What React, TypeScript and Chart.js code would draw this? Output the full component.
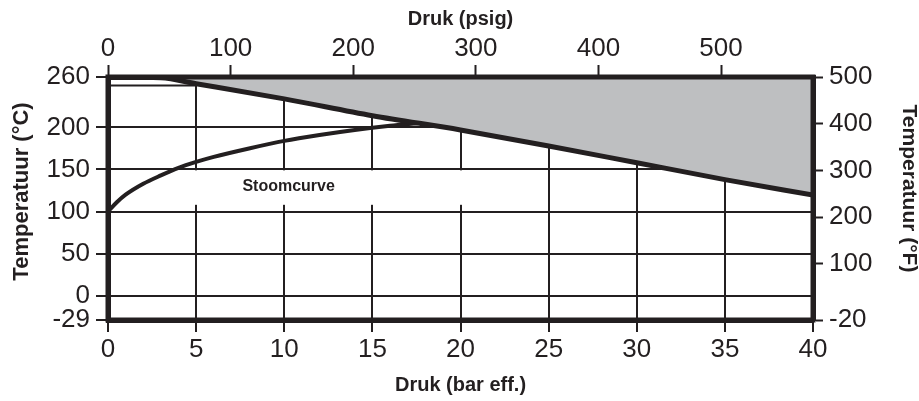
import React, { useEffect, useRef } from "react";
import { Chart, registerables } from "chart.js";

Chart.register(...registerables);

// Axis tick values
const BAR_TICKS = [0, 5, 10, 15, 20, 25, 30, 35, 40];
const PSIG_TICKS = [0, 100, 200, 300, 400, 500];
const C_TICKS = [-29, 0, 50, 100, 150, 200, 260];
const F_TICKS = [-20, 100, 200, 300, 400, 500];

// Upper limit line (bar eff. -> °C), area above is shaded
const LIMIT_BAR = [0, 3, 5, 10, 15, 20, 25, 30, 35, 40];
const LIMIT_C = [260, 259, 252, 234, 214, 197, 178, 158, 138, 119.5];

// Steam saturation curve (bar eff. -> °C)
const STEAM_BAR = [0, 0.5, 1, 2, 3, 4, 5, 6, 8, 10, 12, 14, 16, 17.6];
const STEAM_C = [100, 111, 120, 133, 143, 152, 159, 165, 175, 184, 191, 197, 202, 205.3];

// Short reference line at 250 °C
const REF_BAR = [0, 5];
const REF_C = [250, 250];

const CURVE_LABEL = "Stoomcurve";
const TITLE_C = "Temperatuur (°C)";
const TITLE_F = "Temperatuur (°F)";

const INK = "#231f20";
const GRAY = "#bebfc1";
const FONT = "'Liberation Sans', Arial, Helvetica, sans-serif";

const fixTicks = (values: number[]) => (scale: any) => {
  scale.ticks = values.map((v) => ({ value: v }));
};

const tickFont = { family: FONT, size: 26 };
const titleFont = { family: FONT, size: 20, weight: "bold" as const };

const frameAndLabel = {
  id: "frameAndLabel",
  beforeDatasetsDraw(chart: any) {
    const { ctx, chartArea, scales } = chart;
    const x = scales.x;
    const y = scales.y;
    // white label box hiding grid behind the curve label
    const l = chartArea.left + 3;
    const r = x.getPixelForValue(20.6);
    const t = y.getPixelForValue(149);
    const b = y.getPixelForValue(108);
    ctx.save();
    ctx.fillStyle = "#ffffff";
    ctx.fillRect(l, t, r - l, b - t);
    ctx.fillStyle = INK;
    ctx.font = `bold 16px ${FONT}`;
    ctx.textAlign = "center";
    ctx.textBaseline = "middle";
    ctx.fillText(CURVE_LABEL, x.getPixelForValue(10.25), y.getPixelForValue(130));
    ctx.restore();
  },
  afterDatasetsDraw(chart: any) {
    const { ctx, chartArea } = chart;
    ctx.save();
    ctx.strokeStyle = INK;
    ctx.lineWidth = 5;
    ctx.lineJoin = "miter";
    ctx.strokeRect(
      chartArea.left,
      chartArea.top,
      chartArea.right - chartArea.left,
      chartArea.bottom - chartArea.top
    );
    ctx.restore();
  },
  afterDraw(chart: any) {
    const { ctx, chartArea, width } = chart;
    const midY = (chartArea.top + chartArea.bottom) / 2;
    ctx.save();
    ctx.fillStyle = INK;
    ctx.textAlign = "center";
    ctx.textBaseline = "middle";
    ctx.font = `bold 22px ${FONT}`;
    ctx.translate(22, midY - 7);
    ctx.rotate(-Math.PI / 2);
    ctx.fillText(TITLE_C, 0, 0);
    ctx.restore();
    ctx.save();
    ctx.fillStyle = INK;
    ctx.textAlign = "center";
    ctx.textBaseline = "middle";
    ctx.font = `bold 21px ${FONT}`;
    ctx.translate(width - 10, midY - 10);
    ctx.rotate(Math.PI / 2);
    ctx.fillText(TITLE_F, 0, 0);
    ctx.restore();
  },
};

export default function App() {
  const ref = useRef<HTMLCanvasElement | null>(null);

  useEffect(() => {
    document.body.style.margin = "0";
    const canvas = ref.current;
    if (!canvas) return;

    const chart = new Chart(canvas, {
      type: "line",
      data: {
        datasets: [
          {
            label: "limit",
            data: LIMIT_BAR.map((b, i) => ({ x: b, y: LIMIT_C[i] })),
            borderColor: INK,
            borderWidth: 5,
            backgroundColor: GRAY,
            fill: "end",
            cubicInterpolationMode: "monotone",
            pointRadius: 0,
          },
          {
            label: "steam",
            data: STEAM_BAR.map((b, i) => ({ x: b, y: STEAM_C[i] })),
            borderColor: INK,
            borderWidth: 4,
            fill: false,
            cubicInterpolationMode: "monotone",
            pointRadius: 0,
          },
          {
            label: "ref",
            data: REF_BAR.map((b, i) => ({ x: b, y: REF_C[i] })),
            borderColor: INK,
            borderWidth: 2,
            fill: false,
            pointRadius: 0,
          },
        ],
      },
      options: {
        responsive: false,
        animation: false,
        devicePixelRatio: 1,
        layout: { padding: 0 },
        plugins: {
          legend: { display: false },
          tooltip: { enabled: false },
        },
        scales: {
          x: {
            type: "linear",
            position: "bottom",
            min: 0,
            max: 40,
            afterBuildTicks: fixTicks(BAR_TICKS),
            afterFit: (s: any) => {
              s.height = 81;
            },
            grid: { color: INK, lineWidth: 2, tickLength: 12, tickColor: INK, tickWidth: 2 },
            border: { color: INK, width: 5 },
            ticks: { color: INK, font: tickFont, padding: 2, maxRotation: 0, autoSkip: false },
            title: {
              display: true,
              text: "Druk (bar eff.)",
              color: INK,
              font: titleFont,
              padding: { top: 0, bottom: 4 },
            },
          },
          x2: {
            type: "linear",
            position: "top",
            min: 0,
            max: 575,
            afterBuildTicks: fixTicks(PSIG_TICKS),
            afterFit: (s: any) => {
              s.height = 77;
            },
            grid: { drawOnChartArea: false, tickLength: 12, tickColor: INK, tickWidth: 2 },
            border: { color: INK, width: 5 },
            ticks: { color: INK, font: tickFont, padding: 1, maxRotation: 0, autoSkip: false },
            title: {
              display: true,
              text: "Druk (psig)",
              color: INK,
              font: titleFont,
              padding: { top: 7, bottom: 0 },
            },
          },
          y: {
            type: "linear",
            position: "left",
            min: -29,
            max: 260,
            afterBuildTicks: fixTicks(C_TICKS),
            afterFit: (s: any) => {
              s.width = 108;
            },
            grid: { color: INK, lineWidth: 2, tickLength: 12, tickColor: INK, tickWidth: 2 },
            border: { color: INK, width: 5 },
            ticks: { color: INK, font: tickFont, padding: 6, autoSkip: false },
            title: { display: false },
          },
          y2: {
            type: "linear",
            position: "right",
            min: -20,
            max: 500,
            afterBuildTicks: fixTicks(F_TICKS),
            afterFit: (s: any) => {
              s.width = 106;
            },
            grid: { drawOnChartArea: false, tickLength: 10, tickColor: INK, tickWidth: 2 },
            border: { color: INK, width: 5 },
            ticks: { color: INK, font: tickFont, padding: 6, autoSkip: false },
            title: { display: false },
          },
        },
      },
      plugins: [frameAndLabel],
    } as any);

    return () => {
      chart.destroy();
    };
  }, []);

  return (
    <div style={{ width: 919, height: 401 }}>
      <canvas ref={ref} width={919} height={401} style={{ display: "block" }} />
    </div>
  );
}
